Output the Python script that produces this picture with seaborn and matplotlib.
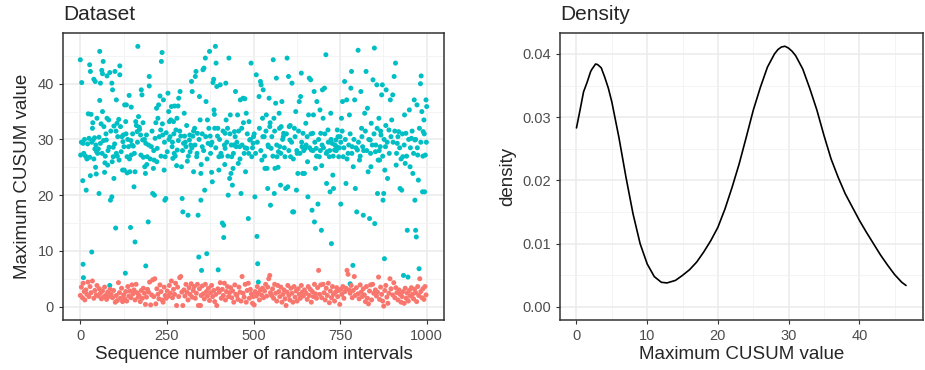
import numpy as np
import pandas as pd
import matplotlib
matplotlib.use("Agg")
import matplotlib.pyplot as plt
import seaborn as sns
from matplotlib.ticker import MultipleLocator, FormatStrFormatter

# --- data ------------------------------------------------------------------
# high-CUSUM group (teal): (sequence number, max CUSUM)
teal_pts = [
    (0, 44.3), (4, 40.2), (1, 27.2), (10, 27.5), (8, 29.3), (7, 22.6), (17, 20.9), (21, 29.2), (23, 34.6),
    (27, 26.8), (29, 23.5), (31, 34.5), (27, 43.4), (29, 42.2), (33, 9.8), (8, 7.6), (9, 5.2), (39, 40.8),
    (43, 40.4), (37, 29.9), (41, 30.3), (42, 28.3), (44, 25.0), (46, 23.8), (35, 32.0), (48, 33.8), (39, 26.5),
    (56, 45.8), (54, 20.3), (56, 37.0), (58, 40.1), (62, 42.4), (66, 44.0), (64, 41.8), (68, 32.3), (64, 35.0),
    (70, 24.1), (72, 27.0), (75, 29.9), (77, 33.8), (82, 33.5), (77, 41.4), (85, 42.0), (83, 28.6), (79, 25.4),
    (87, 19.1), (91, 19.7), (91, 40.1), (93, 38.9), (95, 28.6), (97, 23.0), (58, 29.3), (63, 27.5), (50, 27.5),
    (54, 30.4), (85, 3.8), (97, 32.4), (95, 26.9),
    (102, 14.1), (100, 42.2), (104, 37.1), (106, 32.9), (108, 30.5), (104, 27.5), (112, 26.3), (114, 43.2),
    (114, 41.6), (116, 32.3), (120, 30.5), (122, 24.5), (126, 28.7), (128, 36.2), (130, 6.0), (133, 36.2),
    (131, 33.2), (135, 26.9), (139, 28.7), (141, 37.9), (143, 24.2), (145, 14.2), (147, 35.8), (149, 29.0),
    (135, 24.0), (124, 30.8), (147, 27.2),
    (153, 28.8), (155, 21.5), (158, 11.6), (158, 24.2), (160, 33.2), (164, 31.4), (166, 46.7), (168, 34.1),
    (170, 32.2), (174, 30.8), (176, 38.9), (178, 38.0), (182, 26.8), (186, 25.1), (188, 23.9), (189, 29.3),
    (189, 7.3), (191, 30.8), (196, 15.2), (199, 41.3), (199, 39.6), (180, 29.9), (193, 26.9),
    (205, 28.7), (209, 20.3), (211, 24.8), (214, 20.0), (216, 30.2), (220, 35.6), (224, 33.8), (226, 36.2),
    (230, 37.8), (232, 31.7), (234, 44.0), (236, 45.6), (238, 30.8), (240, 37.1), (242, 24.5), (244, 19.1),
    (247, 19.4), (245, 26.9), (222, 28.4), (213, 26.3),
    (253, 38.3), (255, 35.0), (257, 33.2), (259, 30.5), (263, 35.9), (265, 28.7), (269, 33.2), (271, 27.5),
    (272, 36.0), (276, 31.7), (278, 25.3), (282, 36.0), (284, 37.4), (288, 38.6), (290, 30.6), (292, 25.1),
    (294, 19.4), (296, 17.0), (298, 29.3), (300, 34.7), (267, 26.6), (280, 28.1),
    (301, 30.6), (305, 28.7), (309, 26.1), (311, 16.4), (315, 29.9), (317, 27.8), (321, 40.4), (323, 38.6),
    (325, 30.6), (327, 24.2), (330, 32.0), (332, 41.3), (334, 42.2), (338, 31.1), (340, 16.4), (342, 8.9),
    (344, 37.7), (346, 33.5), (348, 23.9), (348, 19.1), (350, 6.5), (352, 28.7), (336, 26.9), (319, 29.0),
    (354, 42.5), (357, 42.8), (359, 20.9), (361, 44.6), (363, 36.8), (365, 9.5), (367, 33.5), (369, 29.3),
    (373, 45.8), (377, 29.0), (379, 24.1), (381, 22.4), (383, 40.2), (385, 40.8), (386, 35.3), (388, 32.0),
    (390, 46.7), (392, 43.7), (394, 39.5), (396, 30.6), (398, 6.6), (400, 26.9), (400, 24.5), (375, 30.6),
    (404, 39.8), (406, 27.5), (410, 15.0), (414, 14.6), (414, 12.4), (416, 29.0), (418, 28.4), (420, 40.1),
    (421, 33.5), (425, 32.0), (427, 20.0), (429, 44.6), (431, 23.0), (433, 34.4), (437, 26.9), (439, 21.8),
    (441, 24.8), (443, 29.0), (445, 31.4), (448, 38.6), (450, 28.7), (435, 23.9), (418, 31.1),
    (454, 34.4), (456, 25.7), (460, 28.7), (462, 37.1), (464, 20.3), (466, 32.0), (470, 37.4), (473, 27.5),
    (475, 37.3), (479, 34.7), (481, 28.4), (485, 15.8), (487, 33.2), (489, 29.9), (493, 43.7), (495, 26.9),
    (499, 29.3), (500, 30.5), (477, 24.2),
    (504, 19.7), (508, 41.6), (510, 12.6), (512, 7.7), (514, 4.4), (516, 37.7), (520, 40.4), (522, 39.8),
    (524, 26.3), (526, 33.8), (528, 38.9), (531, 30.5), (533, 24.8), (537, 34.4), (539, 24.8), (541, 21.2),
    (545, 37.4), (547, 32.3), (549, 18.2), (551, 28.4), (543, 28.7),
    (557, 44.3), (559, 33.8), (560, 20.3), (562, 24.8), (564, 36.5), (566, 41.0), (568, 26.9), (572, 27.8),
    (574, 34.7), (578, 21.8), (580, 32.3), (582, 36.8), (586, 30.5), (587, 31.1), (593, 21.2), (597, 44.6),
    (599, 21.5), (601, 41.3), (603, 32.3), (576, 28.7), (591, 26.9),
    (605, 29.9), (607, 26.9), (611, 40.1), (613, 17.0), (616, 17.0), (618, 32.0), (622, 35.0), (624, 20.9),
    (626, 27.5), (628, 23.9), (632, 36.8), (636, 37.7), (638, 41.9), (640, 28.7), (642, 23.9), (643, 31.1),
    (647, 23.9), (649, 28.4), (651, 32.9),
    (655, 30.5), (657, 19.7), (659, 34.4), (661, 41.0), (665, 40.7), (667, 28.1), (669, 17.3), (671, 31.1),
    (673, 34.4), (675, 38.6), (676, 15.2), (679, 24.8), (681, 28.4), (683, 36.8), (686, 18.4), (690, 26.9),
    (692, 35.3), (694, 31.1), (696, 13.7), (697, 25.3), (699, 38.9), (701, 33.8),
    (705, 39.2), (709, 45.2), (711, 22.1), (713, 27.8), (715, 31.7), (719, 26.9), (721, 20.6), (723, 34.7),
    (725, 11.3), (727, 29.3), (729, 23.6), (731, 21.2), (734, 28.1), (738, 29.9), (742, 31.7), (746, 26.9),
    (750, 30.5), (752, 18.4), (740, 28.7),
    (754, 33.8), (757, 36.8), (759, 26.9), (763, 40.4), (767, 22.1), (769, 37.1), (773, 27.5), (777, 34.4),
    (779, 4.1), (781, 39.2), (783, 42.2), (785, 28.7), (787, 7.4), (788, 25.1), (792, 37.1), (794, 21.2),
    (798, 17.0), (800, 28.1), (802, 46.0),
    (806, 26.3), (810, 38.6), (812, 32.0), (815, 28.7), (817, 16.4), (821, 34.7), (825, 42.2), (829, 35.6),
    (831, 24.2), (835, 15.8), (837, 29.9), (840, 32.9), (845, 40.7), (849, 46.4), (850, 14.9), (852, 27.8),
    (839, 25.1),
    (856, 39.8), (858, 20.3), (860, 26.3), (862, 33.8), (864, 26.3), (868, 30.8), (870, 38.0), (872, 39.8),
    (874, 19.1), (876, 20.3), (878, 8.6), (879, 24.5), (881, 28.7), (883, 38.9), (887, 23.0), (891, 31.7),
    (895, 37.1), (899, 33.5), (902, 38.0), (866, 28.7),
    (906, 41.3), (910, 43.7), (912, 25.4), (915, 29.3), (919, 31.4), (923, 21.2), (928, 20.9), (931, 26.9),
    (933, 5.6), (936, 34.4), (938, 25.7), (940, 31.1), (944, 13.7), (946, 5.3), (950, 35.3), (952, 25.1),
    (956, 30.2), (960, 23.9), (964, 37.1), (966, 19.1), (968, 13.7), (970, 12.5), (972, 36.2), (974, 27.2),
    (976, 22.7), (978, 6.8), (982, 40.0), (984, 41.4), (986, 35.0), (988, 20.6), (990, 31.4), (992, 33.5),
    (994, 20.6), (996, 27.2), (998, 37.1), (1000, 35.9), (966, 29.9),
    # dense core
    (3, 29.5), (12, 30.0), (15, 27.0), (19, 26.5), (25, 30.2), (33, 29.5), (36, 33.0), (45, 29.0), (47, 27.8),
    (52, 28.3), (60, 32.8), (67, 29.8), (71, 25.8), (74, 31.0), (80, 28.0), (88, 31.5), (92, 26.0), (99, 29.2),
    (103, 31.5), (107, 27.0), (111, 33.6), (118, 27.8), (123, 29.6), (127, 24.5), (132, 31.0), (137, 30.0),
    (142, 26.5), (146, 29.8), (151, 31.0), (156, 27.5), (162, 32.5), (165, 29.5), (171, 31.8), (175, 27.2),
    (181, 33.0), (185, 30.0), (192, 25.5), (197, 29.0), (202, 26.5), (207, 31.5), (212, 28.0), (218, 33.0),
    (221, 26.0), (228, 30.5), (233, 27.0), (237, 32.8), (243, 29.5), (248, 31.2), (251, 27.8), (256, 30.0),
    (261, 33.5), (266, 29.5), (270, 31.0), (274, 27.0), (279, 33.8), (283, 29.8), (287, 31.5), (295, 28.0),
    (303, 29.5), (307, 32.5), (312, 27.0), (316, 30.8), (322, 28.5), (327, 31.5), (331, 29.0), (337, 27.5),
    (343, 30.0), (349, 25.5), (352, 31.0), (356, 28.0), (362, 30.5), (366, 26.5), (371, 32.0), (376, 27.5),
    (380, 29.5), (387, 34.5), (391, 28.5), (397, 32.0), (402, 30.0), (408, 27.0), (412, 31.5), (417, 25.5),
    (423, 29.5), (426, 27.0), (432, 31.0), (436, 29.0), (442, 27.5), (447, 30.5), (452, 29.5), (457, 31.5),
    (461, 26.5), (467, 29.0), (471, 33.0), (476, 28.5), (482, 31.0), (486, 27.5), (491, 30.0), (497, 28.5),
    (502, 31.0), (506, 27.5), (511, 29.5), (517, 32.0), (521, 28.0), (527, 30.5), (532, 27.0), (536, 31.5),
    (542, 29.0), (548, 33.0), (553, 30.5), (556, 27.0), (561, 31.5), (567, 29.0), (571, 25.0), (575, 32.0),
    (579, 27.5), (584, 30.0), (589, 28.5), (595, 31.0), (602, 28.0), (606, 32.5), (610, 29.5), (615, 26.5),
    (620, 30.5), (625, 28.0), (630, 31.5), (634, 27.5), (639, 29.5), (645, 28.0), (652, 29.0), (656, 26.0),
    (662, 28.5), (666, 31.0), (672, 28.0), (677, 29.5), (682, 27.0), (688, 30.0), (693, 28.0), (698, 29.0),
    (702, 28.5), (706, 31.0), (710, 27.5), (716, 29.5), (720, 28.0), (724, 30.0), (730, 27.0), (735, 29.0),
    (739, 28.0), (744, 30.5), (748, 28.5), (752, 29.5), (756, 31.5), (761, 28.5), (765, 30.0), (770, 26.5),
    (775, 29.0), (779, 31.0), (784, 27.5), (790, 30.0), (796, 28.5), (803, 29.5), (808, 27.0), (813, 30.5),
    (818, 28.0), (823, 31.5), (827, 28.0), (833, 30.0), (838, 27.5), (843, 29.0), (848, 31.0), (853, 29.0),
    (857, 32.0), (863, 28.0), (867, 31.5), (873, 27.0), (877, 30.0), (882, 32.5), (886, 29.5), (892, 27.5),
    (897, 30.5), (903, 29.5), (908, 31.5), (913, 27.5), (917, 30.5), (922, 28.5), (926, 26.5), (930, 31.0),
    (935, 29.0), (942, 27.0), (948, 30.0), (953, 28.5), (958, 31.5), (962, 27.5), (968, 30.0), (973, 28.5),
    (979, 32.0), (983, 29.5), (989, 27.0), (993, 31.0), (999, 29.5),
]

# low-CUSUM group (red)
red_pts = [
    (0, 2.0), (3, 3.5), (6, 1.6), (8, 4.2), (11, 2.7), (13, 1.2), (16, 3.0), (19, 2.2), (22, 4.4), (25, 1.8),
    (28, 3.6), (31, 2.5), (35, 4.6), (39, 1.5), (42, 2.9), (46, 2.1), (48, 3.8),
    (52, 1.9), (55, 3.2), (58, 2.4), (61, 1.4), (64, 2.8), (67, 1.7), (70, 3.5), (73, 2.0), (76, 1.3), (79, 2.6),
    (82, 1.8), (86, 3.1), (89, 2.2), (93, 1.6), (96, 2.9),
    (101, 0.8), (104, 2.0), (107, 1.1), (110, 4.3), (113, 2.5), (116, 1.5), (119, 3.3), (122, 0.9), (125, 2.1),
    (128, 1.4), (131, 2.7), (134, 1.0), (137, 3.6), (140, 1.9), (143, 2.8), (146, 1.6), (149, 3.9),
    (152, 2.3), (155, 3.0), (158, 1.2), (161, 4.0), (164, 2.5), (167, 1.7), (170, 2.0), (173, 0.9), (176, 2.9),
    (179, 1.5), (182, 3.3), (185, 2.4), (188, 0.4), (191, 1.7), (194, 3.1), (197, 2.6),
    (200, 4.4), (203, 0.3), (206, 2.1), (209, 4.8), (212, 1.8), (215, 5.0), (218, 0.5), (221, 3.2), (224, 2.2),
    (227, 1.4), (230, 3.9), (233, 2.7), (236, 1.2), (239, 0.8), (242, 3.5), (245, 2.0), (248, 1.5),
    (251, 2.8), (254, 1.9), (257, 3.8), (260, 2.4), (263, 4.6), (266, 1.6), (269, 3.1), (272, 2.2), (275, 4.2),
    (278, 0.2), (281, 3.5), (284, 1.8), (287, 5.2), (290, 5.4), (293, 2.6), (296, 0.2), (299, 3.0),
    (302, 1.9), (305, 4.0), (308, 2.6), (311, 1.2), (314, 3.4), (317, 2.2), (320, 4.1), (323, 1.7), (326, 2.9),
    (329, 3.6), (332, 1.5), (335, 2.4), (338, 4.0), (341, 0.2), (344, 3.2), (347, 0.2), (349, 2.0),
    (352, 3.7), (355, 2.3), (358, 1.4), (361, 4.0), (364, 2.7), (367, 1.9), (370, 3.3), (373, 1.1), (376, 2.5),
    (379, 3.8), (382, 1.8), (385, 2.9), (388, 0.9), (391, 2.2), (394, 0.2), (397, 3.2),
    (401, 2.6), (404, 4.3), (407, 1.5), (410, 3.1), (413, 2.0), (416, 4.2), (419, 1.2), (422, 2.7), (425, 3.6),
    (428, 1.8), (431, 2.5), (434, 3.4), (437, 1.6), (440, 2.8), (443, 0.8), (446, 3.9), (449, 2.2),
    (452, 2.0), (455, 1.3), (458, 3.5), (461, 2.6), (464, 1.0), (467, 5.4), (470, 2.4), (473, 1.7), (476, 4.0),
    (479, 0.8), (482, 2.9), (485, 4.2), (488, 1.5), (491, 3.1), (494, 2.3), (497, 0.6), (499, 1.8),
    (502, 0.3), (505, 2.7), (508, 1.9), (511, 3.6), (514, 2.4), (517, 1.2), (520, 3.0), (523, 2.1), (526, 3.3),
    (529, 1.6), (532, 2.8), (535, 4.0), (538, 1.9), (541, 3.5), (544, 5.0), (547, 5.6), (549, 2.5),
    (552, 2.0), (555, 3.2), (558, 1.5), (561, 4.0), (564, 2.4), (567, 1.0), (570, 3.8), (573, 2.7), (576, 1.8),
    (579, 3.5), (582, 0.8), (585, 2.2), (588, 3.0), (591, 1.4), (594, 0.2), (597, 2.6), (599, 3.8),
    (602, 2.0), (605, 1.2), (608, 3.3), (611, 2.4), (614, 0.8), (617, 3.6), (620, 1.7), (623, 2.8), (626, 1.0),
    (629, 3.2), (632, 2.2), (635, 1.5), (638, 3.8), (641, 2.6), (644, 1.9), (647, 3.0),
    (652, 2.4), (655, 1.3), (658, 3.6), (661, 2.0), (664, 3.1), (667, 0.8), (670, 2.7), (673, 1.8), (676, 4.0),
    (679, 2.3), (682, 1.5), (685, 3.4), (688, 6.5), (691, 2.2), (694, 3.9), (697, 1.6),
    (701, 4.0), (704, 2.5), (707, 1.2), (710, 3.3), (713, 2.0), (716, 4.2), (719, 0.7), (722, 2.8), (725, 1.6),
    (728, 3.6), (731, 2.2), (734, 1.0), (737, 2.6), (740, 3.4), (743, 1.8), (746, 2.9), (749, 0.4),
    (752, 3.1), (755, 2.2), (758, 3.6), (761, 1.5), (764, 2.7), (767, 3.3), (770, 6.5), (773, 5.8), (776, 3.0),
    (779, 2.4), (782, 3.8), (785, 1.6), (788, 2.9), (791, 5.4), (794, 2.0), (797, 3.4),
    (802, 2.3), (805, 1.4), (808, 3.9), (811, 2.6), (814, 1.8), (817, 3.2), (820, 2.1), (823, 0.9), (826, 3.6),
    (829, 1.5), (832, 0.5), (835, 2.8), (838, 3.9), (841, 1.2), (844, 4.0), (847, 2.4),
    (852, 3.0), (855, 1.9), (858, 2.6), (861, 5.3), (864, 1.3), (867, 3.5), (870, 2.2), (873, 1.0), (876, 0.1),
    (879, 2.9), (882, 3.8), (885, 1.7), (888, 0.6), (891, 2.4), (894, 5.0), (897, 3.2),
    (902, 2.1), (905, 4.3), (908, 1.6), (911, 3.4), (914, 2.5), (917, 1.2), (920, 3.0), (923, 2.2), (926, 0.8),
    (929, 1.8), (932, 2.7), (935, 0.6), (938, 3.3), (941, 1.5), (944, 2.4), (947, 1.0),
    (950, 2.9), (953, 1.9), (956, 3.4), (959, 2.2), (962, 1.4), (965, 3.1), (968, 2.5), (971, 0.9), (974, 3.6),
    (977, 2.0), (980, 5.0), (983, 2.7), (986, 1.6), (989, 3.2), (992, 1.3), (995, 3.6), (998, 2.1),
]

# density curve
dens_x = [0, 0.5, 1, 1.5, 2, 2.2, 2.7, 3, 3.5, 4, 4.5, 5, 6, 7, 8, 9, 10, 11, 12, 12.8, 14, 15,
          16, 17, 18, 19, 20, 21, 22, 23, 24, 25, 26, 27, 28, 28.5, 29, 29.5, 30, 30.5, 31, 32,
          33, 34, 35, 36, 37, 38, 39, 40, 41, 42, 43, 44, 45, 46, 46.6]
dens_y = [0.0283, 0.0311, 0.0340, 0.0355, 0.0372, 0.0376, 0.0384, 0.0383, 0.0378, 0.0363,
          0.0346, 0.0324, 0.0268, 0.0205, 0.0147, 0.0100, 0.0068, 0.0048, 0.0039, 0.0038,
          0.0042, 0.0050, 0.0059, 0.0071, 0.0087, 0.0105, 0.0126, 0.0155, 0.0189, 0.0226,
          0.0268, 0.0311, 0.0347, 0.0379, 0.0400, 0.0407, 0.0411, 0.0412, 0.0409, 0.0404,
          0.0397, 0.0376, 0.0345, 0.0311, 0.0271, 0.0234, 0.0205, 0.0179, 0.0158, 0.0137,
          0.0118, 0.0100, 0.0082, 0.0066, 0.0051, 0.0039, 0.0034]

TEAL = "#00BFC4"
RED = "#F8766D"

scatter_df = pd.concat([
    pd.DataFrame(teal_pts, columns=["seq", "cusum"]).assign(group="high"),
    pd.DataFrame(red_pts, columns=["seq", "cusum"]).assign(group="low"),
], ignore_index=True)
dens_df = pd.DataFrame({"x": dens_x, "density": dens_y})

sns.set_theme(style="white")
plt.rcParams["font.family"] = ["Liberation Sans", "DejaVu Sans"]

TICK_FS = 10.5
LABEL_FS = 13.5
TITLE_FS = 15


def bw_style(ax):
    ax.set_facecolor("white")
    ax.grid(True, which="major", color="#EBEBEB", linewidth=1.1, zorder=0)
    ax.grid(True, which="minor", color="#F2F2F2", linewidth=0.6, zorder=0)
    ax.set_axisbelow(True)
    for sp in ax.spines.values():
        sp.set_visible(True)
        sp.set_color("#333333")
        sp.set_linewidth(1.1)
    ax.tick_params(which="major", length=3, width=0.8, color="#333333",
                   labelsize=TICK_FS, labelcolor="#4D4D4D", pad=3.5, bottom=True, left=True)
    ax.tick_params(which="minor", length=0)


fig = plt.figure(figsize=(9.25, 3.7), dpi=100)
W, H = 925, 370
ax1 = fig.add_axes([63 / W, (H - 320) / H, (444 - 63) / W, (320 - 33) / H])
ax2 = fig.add_axes([560 / W, (H - 320) / H, (923 - 560) / W, (320 - 33) / H])

# left: dataset scatter
sns.scatterplot(data=scatter_df, x="seq", y="cusum", hue="group",
                palette={"high": TEAL, "low": RED}, s=13, linewidth=0,
                legend=False, ax=ax1, zorder=3)
ax1.set_xlim(-50, 1050)
ax1.set_ylim(-2.4, 49.1)
ax1.xaxis.set_major_locator(MultipleLocator(250))
ax1.xaxis.set_minor_locator(MultipleLocator(125))
ax1.yaxis.set_major_locator(MultipleLocator(10))
ax1.yaxis.set_minor_locator(MultipleLocator(5))
bw_style(ax1)
ax1.set_xlabel("Sequence number of random intervals", fontsize=LABEL_FS, labelpad=2)
ax1.set_ylabel("Maximum CUSUM value", fontsize=LABEL_FS, labelpad=5)
ax1.set_title("Dataset", loc="left", fontsize=TITLE_FS, pad=9)

# right: density
sns.lineplot(data=dens_df, x="x", y="density", color="black", linewidth=1.2, ax=ax2, zorder=3)
ax2.set_xlim(-2.33, 49.0)
ax2.set_ylim(-0.00206, 0.0433)
ax2.xaxis.set_major_locator(MultipleLocator(10))
ax2.xaxis.set_minor_locator(MultipleLocator(5))
ax2.yaxis.set_major_locator(MultipleLocator(0.01))
ax2.yaxis.set_minor_locator(MultipleLocator(0.005))
ax2.yaxis.set_major_formatter(FormatStrFormatter("%.2f"))
bw_style(ax2)
ax2.set_xlabel("Maximum CUSUM value", fontsize=LABEL_FS, labelpad=2)
ax2.set_ylabel("density", fontsize=LABEL_FS, labelpad=4)
ax2.set_title("Density", loc="left", fontsize=TITLE_FS, pad=9)

fig.savefig("out.png", dpi=100)
